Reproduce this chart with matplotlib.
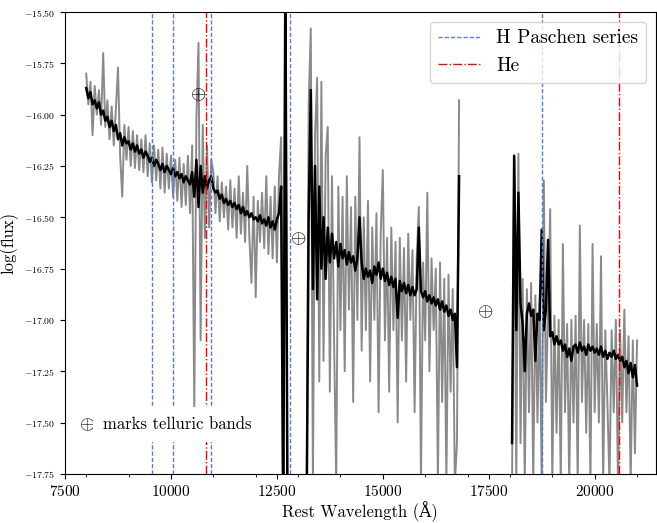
import matplotlib
matplotlib.use('Agg')
import matplotlib.pyplot as plt
from matplotlib.ticker import MultipleLocator, FormatStrFormatter
import numpy as np

plt.rcParams['font.family'] = 'serif'
plt.rcParams['font.serif'] = ['cmr10', 'DejaVu Serif']
plt.rcParams['mathtext.fontset'] = 'cm'
plt.rcParams['axes.formatter.use_mathtext'] = True

# spectrum, three pieces (gaps between them), 50 A grid
wave1 = np.arange(8000, 12751, 50)
black1 = [-15.87, -15.92, -15.89, -15.95, -15.93, -15.97, -15.94, -16.00, -15.98, -16.03,
          -16.01, -16.06, -16.03, -16.08, -16.05, -16.12, -16.09, -16.15, -16.11, -16.14,
          -16.13, -16.17, -16.14, -16.18, -16.15, -16.19, -16.17, -16.21, -16.18, -16.20,
          -16.23, -16.21, -16.25, -16.22, -16.24, -16.27, -16.24, -16.28, -16.25, -16.27,
          -16.29, -16.26, -16.30, -16.28, -16.31, -16.29, -16.33, -16.30, -16.32, -16.34,
          -16.28, -16.40, -16.22, -16.45, -16.25, -16.38, -16.30, -16.36, -16.32, -16.30,
          -16.36, -16.38, -16.37, -16.41, -16.39, -16.43, -16.41, -16.44, -16.42, -16.45,
          -16.43, -16.46, -16.44, -16.48, -16.45, -16.49, -16.47, -16.50, -16.48, -16.51,
          -16.50, -16.52, -16.49, -16.53, -16.51, -16.54, -16.50, -16.55, -16.52, -16.56,
          -16.51, -16.48, -16.35, -18.00, -15.30, -18.00]
gray1 = [-15.80, -15.95, -15.84, -16.10, -15.86, -16.00, -15.88, -16.05, -15.70, -16.06,
         -15.93, -16.12, -15.96, -16.15, -15.97, -15.77, -16.20, -16.40, -16.05, -16.22,
         -16.06, -16.25, -16.08, -16.26, -16.10, -16.27, -16.12, -16.28, -16.10, -16.30,
         -16.14, -16.33, -16.15, -16.32, -16.17, -16.36, -16.16, -16.38, -16.19, -16.36,
         -16.20, -16.40, -16.22, -16.42, -16.21, -16.45, -16.24, -16.44, -16.20, -16.48,
         -16.15, -17.44, -16.02, -15.65, -17.10, -16.05, -16.60, -16.15, -16.55, -16.22,
         -16.28, -16.48, -16.30, -16.52, -16.33, -16.50, -16.35, -16.56, -16.32, -16.55,
         -16.36, -16.60, -16.30, -16.58, -16.38, -16.62, -16.25, -16.60, -16.82, -16.40,
         -16.89, -16.42, -16.62, -16.38, -16.65, -16.30, -16.68, -16.40, -16.70, -16.35,
         -16.72, -16.30, -16.11, -18.00, -15.30, -18.00]

wave2 = np.arange(13200, 16801, 50)
black2 = [-18.00, -16.50, -15.88, -16.85, -16.25, -16.90, -16.35, -16.75, -16.50, -16.80,
          -16.55, -16.72, -16.58, -16.70, -16.62, -16.74, -16.63, -16.70, -16.66, -16.73,
          -16.67, -16.72, -16.69, -16.76, -16.70, -16.50, -16.72, -16.80, -16.75, -16.79,
          -16.76, -16.82, -16.74, -16.78, -16.72, -16.80, -16.75, -16.81, -16.77, -16.83,
          -16.79, -16.84, -16.80, -16.99, -16.81, -16.86, -16.82, -16.87, -16.83, -16.88,
          -16.84, -16.88, -16.85, -16.55, -16.86, -16.89, -16.86, -16.91, -16.88, -16.92,
          -16.89, -16.93, -16.90, -16.95, -16.91, -16.96, -16.93, -16.98, -16.95, -17.00,
          -16.97, -17.23, -16.30]
gray2 = [-18.00, -15.95, -15.58, -17.80, -16.10, -15.82, -17.30, -15.84, -17.20, -16.20,
         -16.06, -17.35, -16.30, -17.10, -17.80, -16.35, -17.05, -16.40, -17.25, -16.30,
         -16.95, -16.45, -17.40, -16.40, -17.00, -16.11, -17.15, -16.50, -17.05, -16.42,
         -17.30, -16.55, -17.00, -16.48, -17.45, -16.58, -16.27, -17.10, -16.60, -17.35,
         -16.55, -17.05, -16.62, -17.50, -16.60, -17.10, -16.65, -17.30, -16.58, -17.00,
         -16.66, -17.45, -16.70, -16.45, -17.80, -16.72, -17.10, -16.38, -17.25, -16.70,
         -17.05, -16.75, -17.80, -16.72, -17.40, -16.80, -17.80, -16.78, -17.35, -16.85,
         -17.80, -17.60, -15.93]

wave3 = np.arange(18050, 21001, 50)
black3 = [-17.60, -16.20, -17.05, -16.38, -16.92, -17.02, -17.25, -16.97, -16.92, -16.98,
          -16.95, -17.20, -16.97, -17.00, -16.56, -17.05, -16.95, -16.61, -17.08, -17.06,
          -17.12, -17.08, -17.12, -17.10, -17.15, -17.12, -17.18, -17.14, -17.20, -17.13,
          -17.12, -17.16, -17.11, -17.15, -17.13, -17.17, -17.12, -17.15, -17.13, -17.16,
          -17.14, -17.17, -17.13, -17.18, -17.15, -17.19, -17.16, -17.18, -17.15, -17.19,
          -17.17, -17.20, -17.18, -17.23, -17.20, -17.26, -17.21, -17.28, -17.22, -17.32]
gray3 = [-17.80, -16.20, -17.80, -16.19, -17.60, -16.80, -17.80, -16.85, -17.45, -16.82,
         -17.80, -16.88, -17.50, -16.90, -17.80, -16.32, -17.40, -16.95, -16.46, -17.80,
         -16.98, -17.55, -17.00, -17.80, -16.63, -17.45, -17.02, -17.80, -17.00, -17.50,
         -16.98, -17.80, -16.54, -17.40, -17.00, -17.55, -17.02, -17.80, -16.63, -17.45,
         -17.02, -17.50, -16.69, -17.80, -17.05, -17.40, -17.80, -17.05, -17.45, -17.00,
         -17.80, -17.05, -17.50, -16.95, -17.45, -17.08, -17.80, -17.10, -17.65, -17.10]

paschen = [9546, 10049, 10938, 12818, 18751]
helium = [10830, 20581]
telluric_x = [10640, 13000, 17410]
telluric_y = [-15.90, -16.60, -16.96]

wave = np.concatenate([wave1, [12775], wave2, [17400], wave3])
gray = np.concatenate([gray1, [np.nan], gray2, [np.nan], gray3])
black = np.concatenate([black1, [np.nan], black2, [np.nan], black3])

fig, ax = plt.subplots(figsize=(6.57, 5.23), dpi=100)
fig.subplots_adjust(left=0.099, right=0.998, top=0.977, bottom=0.094)

ax.plot(wave, gray, color='#8a8a8a', lw=1.4)
ax.plot(wave, black, color='black', lw=1.8)

for i, w in enumerate(paschen):
    ax.axvline(w, color='#4f7be3', ls='--', lw=1.0, dashes=(3, 1.5),
               label='H Paschen series' if i == 0 else None)
for i, w in enumerate(helium):
    ax.axvline(w, color='red', ls='-.', lw=1.0, label='He' if i == 0 else None)

for tx, ty in zip(telluric_x, telluric_y):
    ax.text(tx, ty, r'$\oplus$', fontsize=14, ha='center', va='center')

# note in lower left, white boxes break the vertical lines behind it
box = dict(facecolor='white', edgecolor='none', pad=7)
ax.text(8010, -17.51, r'$\oplus$', fontsize=14, ha='center', va='center', bbox=box)
ax.text(8390, -17.51, 'marks telluric bands', fontsize=12,
        ha='left', va='center', bbox=box)

ax.set_xlim(7500, 21440)
ax.set_ylim(-17.75, -15.5)
ax.xaxis.set_major_locator(MultipleLocator(2500))
ax.xaxis.set_minor_locator(MultipleLocator(1000))
ax.yaxis.set_major_locator(MultipleLocator(0.25))
ax.yaxis.set_major_formatter(FormatStrFormatter(r'$%.2f$'))
ax.tick_params(axis='x', labelsize=11)
ax.tick_params(axis='y', labelsize=7)

ax.set_xlabel('Rest Wavelength (\u00c5)', fontsize=12, labelpad=2,
              family=['cmr10', 'DejaVu Serif'])
ax.set_ylabel('log(flux)', fontsize=12)
ax.legend(loc='upper right', fontsize=14, framealpha=0.8, handlelength=2.2)

fig.savefig('out.png', dpi=100)
